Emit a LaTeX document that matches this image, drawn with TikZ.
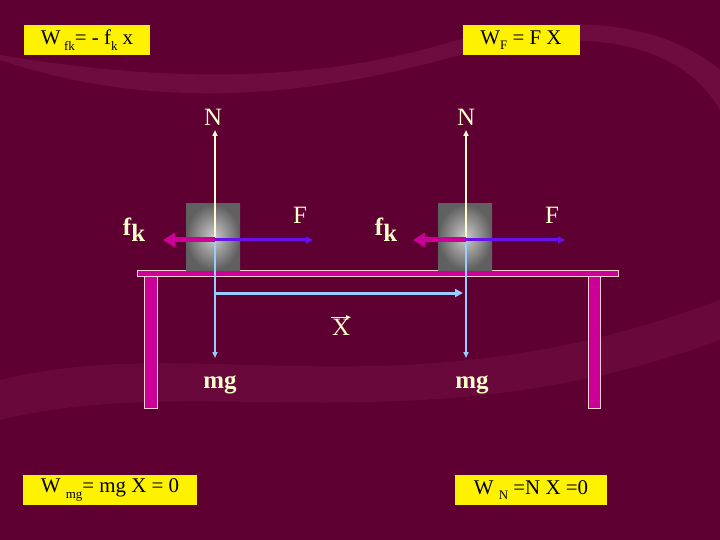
\documentclass[tikz,border=0pt]{standalone}
\usepackage{fontspec}
\setmainfont{Liberation Serif}
\usetikzlibrary{arrows.meta}
\definecolor{bg}{HTML}{5E0032}
\definecolor{band}{HTML}{7A1448}
\definecolor{cream}{HTML}{FFFFCC}
\definecolor{mag}{HTML}{CC0099}
\definecolor{pur}{HTML}{6611EE}
\definecolor{lblue}{HTML}{99CCFF}
\newcommand{\sbs}[1]{\raisebox{-0.55ex}{\fontsize{13}{13}\selectfont #1}}
\begin{document}
\begin{tikzpicture}[x=1bp,y=-1bp,
  ybox/.style={fill=yellow,inner sep=0pt,minimum height=30bp,font=\fontsize{21}{21}\selectfont,text=black},
  lab/.style={text=cream,font=\fontsize{25}{25}\selectfont},
  blk/.style={inner sep=0pt,minimum width=54bp,minimum height=66bp,inner color=gray!40,outer color=gray!75!black},
  leg/.style={fill=mag,draw=pink!70,line width=0.6bp}]
\fill[bg] (0,0) rectangle (720,540);
\fill[band,opacity=0.6] (0,60) .. controls (150,110) and (300,100) .. (460,55) .. controls (580,25) and (680,40) .. (720,110) -- (720,70) .. controls (660,20) and (560,10) .. (440,45) .. controls (300,85) and (150,80) .. (0,55) -- cycle;
\fill[band,opacity=0.4] (0,380) .. controls (200,330) and (400,420) .. (720,300) -- (720,340) .. controls (420,450) and (200,370) .. (0,420) -- cycle;
% boxes
\node[ybox,minimum width=126bp] (b1) at (87,40) {W\,\sbs{fk}= - f\sbs{k} x};
\node[ybox,minimum width=117bp] (b2) at (521,40) {W\sbs{F} = F X};
\node[ybox,minimum width=173bp] (b3) at (110,490) {W \sbs{mg}= mg X = 0};
\node[ybox,minimum width=152bp] (b4) at (531,490) {W \sbs{N} =N X =0};
% table
\draw[leg] (137,270) rectangle (618,276);
\draw[leg] (144,276) rectangle (157,408);
\draw[leg] (588,276) rectangle (600,408);
% blocks
\node[blk] (m1) at (213,237) {};
\node[blk] (m2) at (465,237) {};
\foreach \x/\i in {215/1,466/2}{
  \coordinate (c\i) at (\x,240);
  \coordinate (n\i) at (\x,130);
  \coordinate (g\i) at (\x,358);
  \draw[cream,line width=1.5bp,-{Triangle[width=5bp,length=6bp]}] (c\i) -- (n\i);
  \draw[lblue,line width=1.5bp,-{Triangle[width=5bp,length=6bp]}] (c\i) -- (g\i);
}
\coordinate (f1) at (163,240); \coordinate (F1) at (313,240);
\coordinate (f2) at (413,240); \coordinate (F2) at (565,240);
\draw[pur,line width=3bp,-{Triangle[width=7bp,length=7bp]}] (c1) -- (F1);
\draw[pur,line width=3bp,-{Triangle[width=7bp,length=7bp]}] (c2) -- (F2);
\draw[mag,line width=5bp,-{Triangle[width=14bp,length=12bp]}] (c1) -- (f1);
\draw[mag,line width=5bp,-{Triangle[width=14bp,length=12bp]}] (c2) -- (f2);
\coordinate (x1) at (215,293); \coordinate (x2) at (463,293);
\draw[lblue,line width=3bp,-{Triangle[width=8bp,length=8bp]}] (x1) -- (x2);
% labels
\node[lab] (N1) at (213,117) {N};
\node[lab] (N2) at (466,117) {N};
\node[lab] (fk1) at (134,230) {\textbf{f}\raisebox{-0.5ex}{\textbf{k}}};
\node[lab] (fk2) at (386,230) {\textbf{f}\raisebox{-0.5ex}{\textbf{k}}};
\node[lab] (Fl1) at (300,215) {F};
\node[lab] (Fl2) at (552,215) {F};
\node[lab] (X) at (341,327) {X};
\draw[cream,line width=1bp,-{Triangle[width=4bp,length=5bp]}] ([xshift=-10bp,yshift=-2bp]X.north) -- ([xshift=10bp,yshift=-2bp]X.north);
\node[lab] (mg1) at (220,385) {\textbf{mg}};
\node[lab] (mg2) at (472,385) {\textbf{mg}};
\end{tikzpicture}
\end{document}
